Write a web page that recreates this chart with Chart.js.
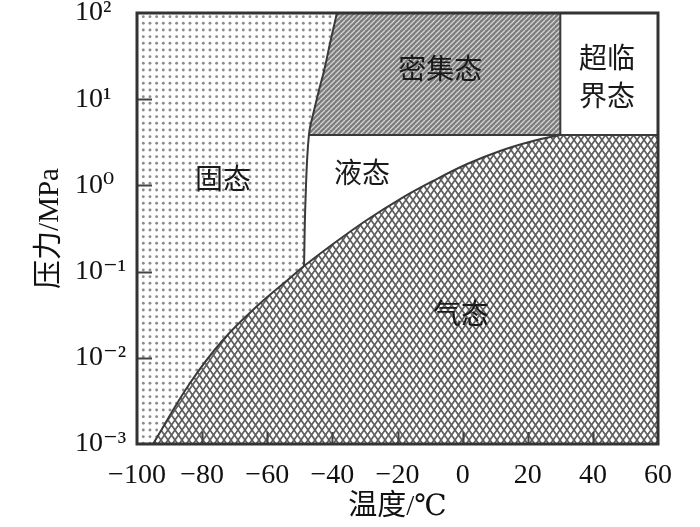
<!DOCTYPE html>
<html>
<head>
<meta charset="utf-8">
<script src="https://cdn.jsdelivr.net/npm/chart.js@4"></script>
<style>
  body { margin: 0; background: #fff; }
  #wrap { width: 700px; height: 527px; }
</style>
</head>
<body>
<div id="wrap"><canvas id="phaseChart"></canvas></div>
<script>
// sublimation + vaporization curve (温度 ℃, 压力 MPa)
var curveT = [-95.1, -83.7, -73.6, -63.1, -53.0, -48.7, -39.8, -29.4, -19.2, -9.1, 1.4, 11.5, 21.6, 30.0];
var curveP = [0.001, 0.0051, 0.0161, 0.0399, 0.0843, 0.116, 0.209, 0.397, 0.695, 1.125, 1.77, 2.51, 3.27, 3.85];
// melting line, starting at the triple point
var meltT = [-48.7, -48.25, -47.2, -45.6, -44.1, -42.5, -40.7, -38.6];
var meltP = [0.116, 0.677, 3.85, 7.49, 12.8, 21.8, 44.9, 100];
var critT = 30.0;
var critP = 3.85;
var tMin = -100, tMax = 60;
var pMin = 0.001, pMax = 100;
var tTicks = [-80, -60, -40, -20, 0, 20, 40];
var pTicks = [0.001, 0.01, 0.1, 1, 10, 100];
var pTickLabels = ['10⁻³', '10⁻²', '10⁻¹', '10⁰', '10¹', '10²'];

var regionLabels = ['固态', '液态', '密集态', '超临', '界态', '气态'];
var labelT = [-73.6, -30.9, -6.9, 44.3, 44.3, -0.5];
var labelP = [1.22, 1.43, 23, 30.9, 11.2, 0.033];

function pts(ts, ps) {
    return ts.map(function (t, i) { return {x: t, y: ps[i]}; });
}

function makePattern(w, h, draw) {
    var c = document.createElement('canvas');
    c.width = w; c.height = h;
    var g = c.getContext('2d');
    draw(g, w, h);
    return g.createPattern(c, 'repeat');
}

var dots = makePattern(20, 20, function (g) {
    g.fillStyle = '#fff';
    g.fillRect(0, 0, 20, 20);
    g.fillStyle = '#8c8c8c';
    for (var i = 0; i < 3; i++) {
        for (var j = 0; j < 3; j++) {
            g.beginPath();
            g.arc(3.3 + i * 6.67, 3.3 + j * 6.67, 1.45, 0, Math.PI * 2);
            g.fill();
        }
    }
});

var dense = makePattern(5, 5, function (g) {
    g.fillStyle = '#7c7c7c';
    g.fillRect(0, 0, 5, 5);
    g.strokeStyle = '#d4d4d4';
    g.lineWidth = 1.3;
    for (var k = -5; k <= 5; k += 5) {
        g.beginPath();
        g.moveTo(k, 5);
        g.lineTo(k + 5, 0);
        g.stroke();
    }
});

var mesh = makePattern(7, 10, function (g, w, h) {
    g.fillStyle = '#fff';
    g.fillRect(0, 0, w, h);
    g.strokeStyle = '#5e5e5e';
    g.lineWidth = 1.7;
    for (var dx = -w; dx <= w; dx += w) {
        for (var dy = -h; dy <= h; dy += h) {
            g.beginPath();
            g.moveTo(dx, dy); g.lineTo(dx + w, dy + h);
            g.moveTo(dx + w, dy); g.lineTo(dx, dy + h);
            g.stroke();
        }
    }
});

var curvePts = pts(curveT, curveP);
var meltPts = pts(meltT, meltP);

var solidPoly = [{x: tMin, y: pMax}, {x: tMin, y: pMin}]
    .concat(curvePts.slice(0, 6))
    .concat(meltPts.slice(1));
var densePoly = meltPts.slice(2).concat([{x: critT, y: pMax}, {x: critT, y: critP}]);
var gasPoly = curvePts.concat([{x: tMax, y: critP}, {x: tMax, y: pMin}]);

var serif = '"Liberation Serif", "DejaVu Serif", "Noto Sans CJK SC", serif';

var decorPlugin = {
    id: 'decor',
    afterDatasetsDraw: function (chart) {
        var ctx = chart.ctx, xs = chart.scales.x, ys = chart.scales.y;
        ctx.save();
        ctx.fillStyle = '#1a1a1a';
        ctx.font = '28px "Noto Sans CJK SC", sans-serif';
        ctx.textAlign = 'center';
        ctx.textBaseline = 'middle';
        regionLabels.forEach(function (txt, i) {
            ctx.fillText(txt, xs.getPixelForValue(labelT[i]), ys.getPixelForValue(labelP[i]));
        });
        ctx.restore();
    },
    afterDraw: function (chart) {
        var a = chart.chartArea, ctx = chart.ctx, xs = chart.scales.x, ys = chart.scales.y;
        ctx.save();
        // inward tick marks
        ctx.strokeStyle = '#444';
        ctx.lineWidth = 2;
        ctx.beginPath();
        tTicks.forEach(function (t) {
            var px = Math.round(xs.getPixelForValue(t)) + 0.5;
            ctx.moveTo(px, a.bottom);
            ctx.lineTo(px, a.bottom - 12);
        });
        pTicks.slice(1, -1).forEach(function (p) {
            var py = Math.round(ys.getPixelForValue(p)) + 0.5;
            ctx.moveTo(a.left, py);
            ctx.lineTo(a.left + 15, py);
        });
        ctx.stroke();
        ctx.strokeStyle = '#333';
        ctx.lineWidth = 3;
        ctx.strokeRect(a.left, a.top, a.right - a.left, a.bottom - a.top);
        ctx.restore();
    }
};

function area(data, fillStyle) {
    return {
        data: data, showLine: true, fill: 'shape', tension: 0,
        backgroundColor: fillStyle, borderWidth: 0, pointRadius: 0, order: 5
    };
}
function edge(data) {
    return {
        data: data, showLine: true, fill: false, tension: 0.4,
        borderColor: '#3a3a3a', borderWidth: 2, pointRadius: 0, order: 1
    };
}

new Chart(document.getElementById('phaseChart'), {
    type: 'scatter',
    data: {
        datasets: [
            area(solidPoly, dots),
            area(densePoly, dense),
            area(gasPoly, mesh),
            edge(curvePts),
            edge(meltPts),
            edge([{x: meltT[2], y: critP}, {x: tMax, y: critP}]),
            edge([{x: critT, y: critP}, {x: critT, y: pMax}])
        ]
    },
    options: {
        responsive: true,
        maintainAspectRatio: false,
        animation: false,
        layout: { padding: { top: 13, right: 42, left: 75, bottom: 0 } },
        plugins: { legend: { display: false }, tooltip: { enabled: false } },
        scales: {
            x: {
                type: 'linear', min: tMin, max: tMax,
                border: { display: false },
                grid: { display: false },
                ticks: {
                    stepSize: 20, autoSkip: false, maxRotation: 0, padding: 7, color: '#111',
                    font: { family: serif, size: 28 },
                    callback: function (v) { return v < 0 ? '−' + Math.abs(v) : String(v); }
                },
                title: { display: true, text: '温度/℃', color: '#111', font: { family: serif, size: 29 }, padding: { top: 0, bottom: 2 } },
                afterFit: function (s) { s.height = 83; s.paddingLeft = 0; s.paddingRight = 0; }
            },
            y: {
                type: 'logarithmic', min: pMin, max: pMax,
                border: { display: false },
                grid: { display: false },
                ticks: {
                    autoSkip: false, crossAlign: 'far', padding: 12, color: '#111',
                    font: { family: serif, size: 28 },
                    callback: function (v) {
                        var i = pTicks.indexOf(v);
                        return i >= 0 ? pTickLabels[i] : '';
                    }
                },
                afterBuildTicks: function (s) {
                    s.ticks = pTicks.map(function (v) { return {value: v}; });
                },
                title: { display: true, text: '压力/MPa', color: '#111', font: { family: serif, size: 29 }, padding: { top: -42, bottom: 0 } },
                afterFit: function (s) { s.width = 62; s.paddingTop = 0; s.paddingBottom = 0; }
            }
        }
    },
    plugins: [decorPlugin]
});
</script>
</body>
</html>
